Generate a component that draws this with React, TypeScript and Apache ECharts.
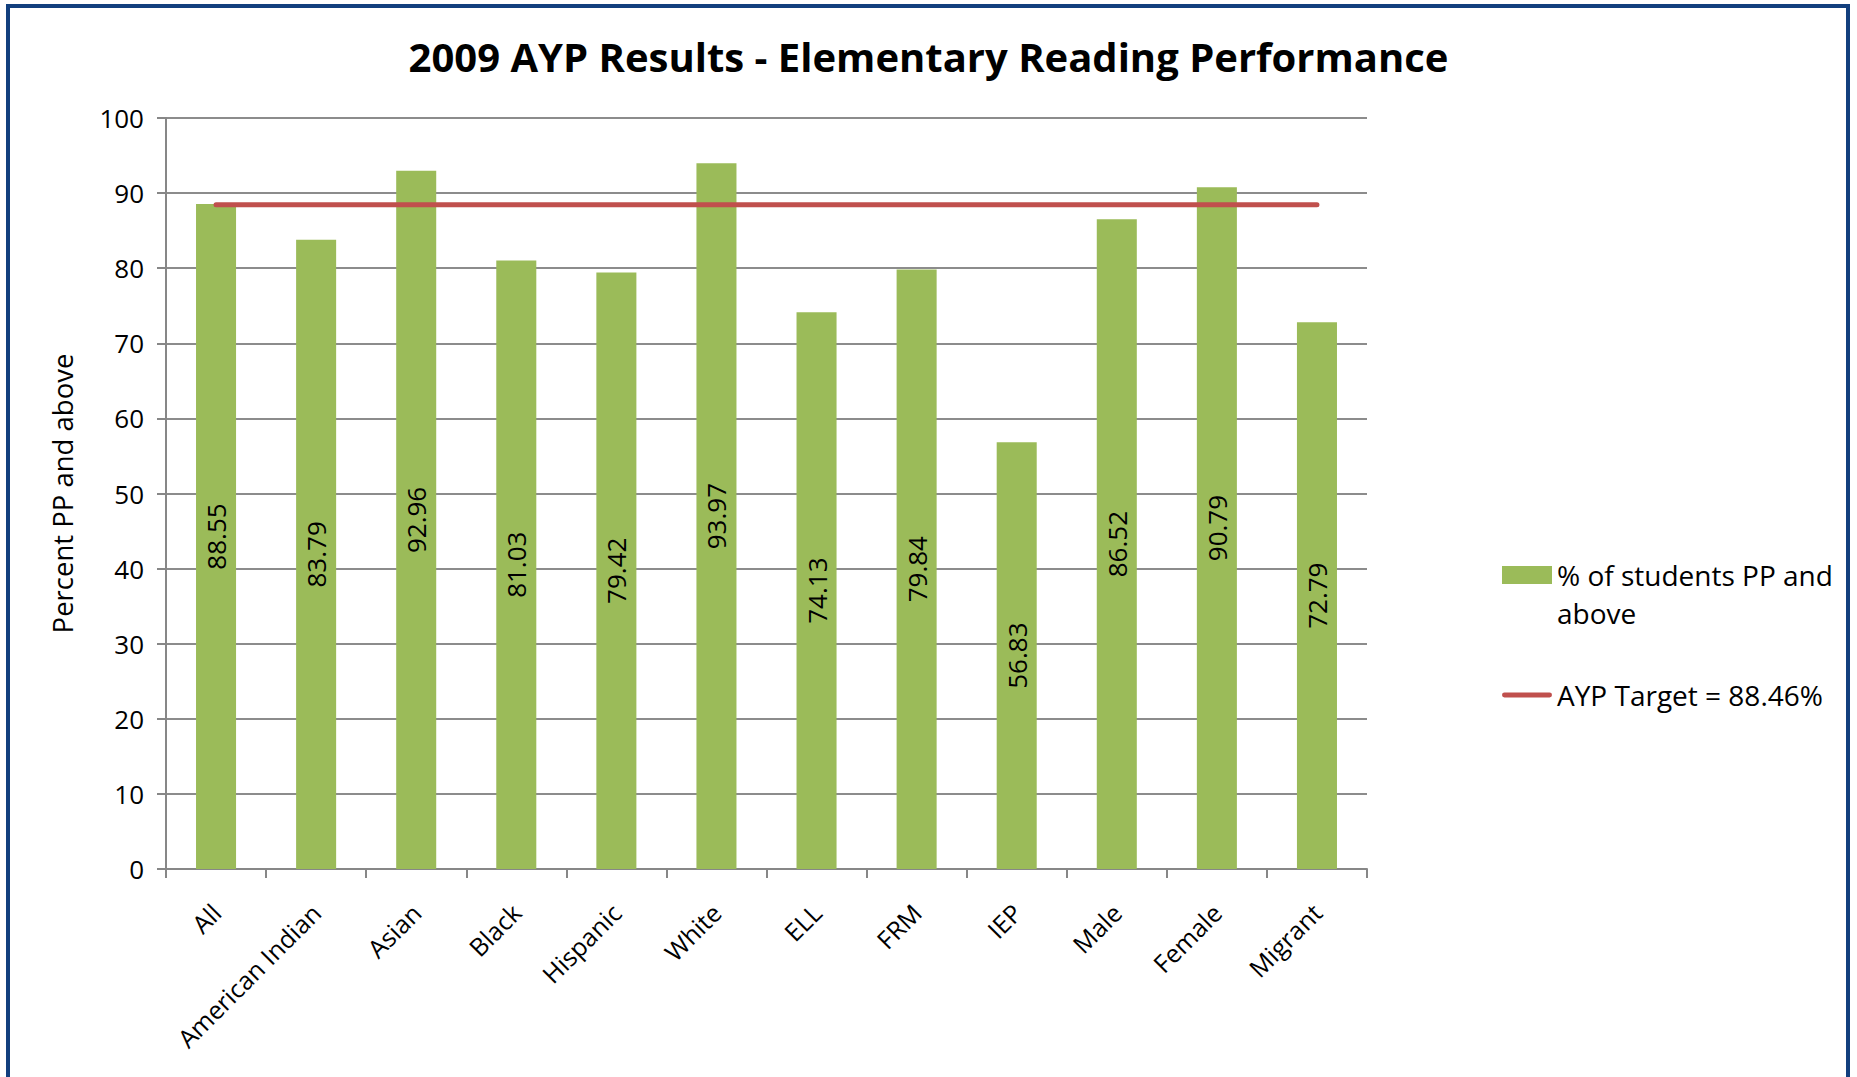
import React, { useEffect, useRef } from "react";
import * as echarts from "echarts";

const categories = ["All", "American Indian", "Asian", "Black", "Hispanic", "White", "ELL", "FRM", "IEP", "Male", "Female", "Migrant"];
const studentsPP = [88.55, 83.79, 92.96, 81.03, 79.42, 93.97, 74.13, 79.84, 56.83, 86.52, 90.79, 72.79];
const aypTarget = [88.46, 88.46, 88.46, 88.46, 88.46, 88.46, 88.46, 88.46, 88.46, 88.46, 88.46, 88.46];
const yTicks = { min: 0, max: 100, interval: 10 };

const barName = "% of students PP and above";
const lineName = "AYP Target = 88.46%";
const FONT = "'Open Sans', 'Noto Sans', sans-serif";

export default function App() {
  const ref = useRef<HTMLDivElement>(null);
  useEffect(() => {
    if (!ref.current) return;
    const chart = echarts.init(ref.current, null, { renderer: "svg" });
    chart.setOption({
      animation: false,
      backgroundColor: "#ffffff",
      textStyle: { fontFamily: FONT, color: "#000" },
      title: {
        text: "2009 AYP Results - Elementary Reading Performance",
        left: "center",
        top: 31,
        textStyle: { fontFamily: FONT, fontWeight: "bold", fontSize: 40, color: "#000" },
      },
      graphic: [
        {
          type: "rect",
          shape: { x: 8, y: 6, width: 1840, height: 1100 },
          style: { fill: "none", stroke: "#123f7e", lineWidth: 4 },
          silent: true,
        },
      ],
      grid: { left: 166, right: 490, top: 118, bottom: 208, containLabel: false },
      legend: {
        orient: "vertical",
        left: 1502,
        top: 518,
        padding: 0,
        itemWidth: 50,
        itemHeight: 18,
        itemGap: 44,
        textStyle: { fontFamily: FONT, fontSize: 28, color: "#000", lineHeight: 38 },
        formatter: (n: string) => (n === barName ? "\u00a0\n% of students PP and\nabove" : n),
        data: [
          { name: barName, icon: "rect" },
          { name: lineName, icon: "path://M2,0 L48,0 A2.5,2.5 0 0 1 48,5 L2,5 A2.5,2.5 0 0 1 2,0 Z" },
        ],
      },
      xAxis: {
        type: "category",
        data: categories,
        axisLine: { lineStyle: { color: "#878787", width: 2 } },
        axisTick: { show: true, length: 9, lineStyle: { color: "#878787", width: 2 } },
        axisLabel: { rotate: 45, fontSize: 25, color: "#000", fontFamily: FONT, margin: 39, interval: 0 },
      },
      yAxis: {
        type: "value",
        min: yTicks.min,
        max: yTicks.max,
        interval: yTicks.interval,
        name: "Percent PP and above",
        nameLocation: "middle",
        nameGap: 90,
        nameTextStyle: { fontSize: 27.5, color: "#000", fontFamily: FONT },
        axisLine: { show: true, lineStyle: { color: "#878787", width: 2 } },
        axisTick: { show: true, length: 9, lineStyle: { color: "#878787", width: 2 } },
        axisLabel: { fontSize: 26, color: "#000", fontFamily: FONT, margin: 22 },
        splitLine: { lineStyle: { color: "#8c8c8c", width: 2 } },
      },
      series: [
        {
          name: barName,
          type: "bar",
          data: studentsPP,
          barWidth: "40%",
          itemStyle: { color: "#9bbb59" },
          label: {
            show: true,
            position: "inside",
            rotate: 90,
            fontSize: 26,
            color: "#000",
            fontFamily: FONT,
            formatter: (p: any) => p.value.toFixed(2),
          },
        },
        {
          name: lineName,
          type: "line",
          data: aypTarget,
          symbol: "none",
          lineStyle: { color: "#c0504d", width: 5, cap: "round" },
          itemStyle: { color: "#c0504d" },
        },
      ],
    });
    return () => chart.dispose();
  }, []);
  return <div ref={ref} style={{ position: "fixed", left: 0, top: 0, width: 1857, height: 1077 }} />;
}
